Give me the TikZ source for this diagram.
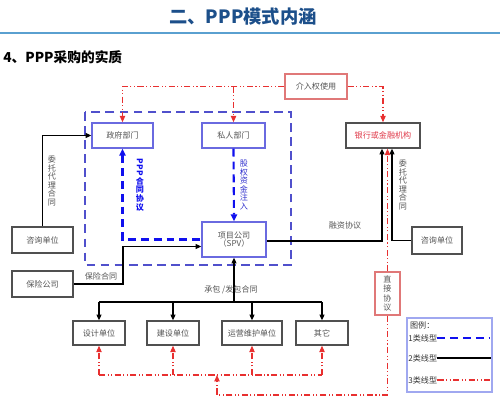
\documentclass[tikz,border=0pt]{standalone}
\usepackage{fontspec}
\setmainfont{Noto Sans CJK SC}
\usepackage{tikz}
\usetikzlibrary{arrows.meta,calc,positioning}
\definecolor{ttlblue}{HTML}{1C4F8A}
\definecolor{rulecol}{HTML}{5AA0D0}
\definecolor{boxgray}{HTML}{505050}
\definecolor{txtgray}{HTML}{555555}
\definecolor{boxblue}{HTML}{6A6AE0}
\definecolor{dashblue}{HTML}{1010EE}
\definecolor{outerblue}{HTML}{5050CC}
\definecolor{lnred}{HTML}{E83030}
\definecolor{boxred}{HTML}{E07878}
\definecolor{bankred}{HTML}{E03848}
\definecolor{legblue}{HTML}{A0A8F0}
\tikzset{
  unitbox/.style={
    draw = boxgray,
    line width = 0.8pt,
    fill = white,
    text = txtgray,
    font = \fontsize{4.6}{5}\selectfont,
    inner sep = 0pt
  },
  bluebox/.style={
    unitbox,
    draw = boxblue
  },
  redbox/.style={
    unitbox,
    draw = boxred
  },
  lab/.style={
    text = txtgray,
    font = \fontsize{4.6}{5}\selectfont,
    inner sep = 1pt
  },
  vlab/.style={
    lab,
    align = center,
    font = \fontsize{4.6}{4.9}\selectfont
  },
}
\tikzset{
  kline/.style={
    line width = 0.6pt,
    black,
    -{Triangle[length=3.2pt,width=2.8pt]}
  },
  bline/.style={
    line width = 1.2pt,
    dashblue,
    dash pattern = on 4.5pt off 2.8pt,
    -{Triangle[length=4pt,width=3.6pt]}
  },
  rline/.style={
    line width = 0.6pt,
    lnred,
    dash pattern = on 3.5pt off 1.4pt on 0.6pt off 1.4pt on 0.6pt off 1.4pt,
    -{Triangle[length=3.6pt,width=3pt]}
  },
}
\begin{document}
\begin{tikzpicture}[x=0.02cm,y=-0.02cm]
    \useasboundingbox (0,0) rectangle (500,402);
    \def\rowa{135.5}
    \def\rowb{333}
    % heading
    \node[text=ttlblue, font=\fontsize{10.4}{12}\selectfont\bfseries, inner sep=0pt] (title) at (243,17) {二、PPP模式内涵};
    \draw[rulecol, line width=0.8pt] (0,33) -- (500,33);
    \node[font=\fontsize{7.8}{9}\selectfont\bfseries, anchor=west, inner sep=0pt] (sub) at (3,57) {4、PPP采购的实质};
    % PPP frame
    \draw[outerblue, line width=1pt, dash pattern=on 5pt off 3pt] (85,112) rectangle (291,265);
    % boxes
    \node[redbox, minimum width=1.24cm, minimum height=0.5cm] (jieru) at (316,86.5) {介入权使用};
    \node[bluebox, minimum width=1.22cm, minimum height=0.5cm] (gov) at (122.5,\rowa) {政府部门};
    \node[bluebox, minimum width=1.26cm, minimum height=0.5cm] (pri) at (233.5,\rowa) {私人部门};
    \node[bluebox, minimum width=1.28cm, minimum height=0.7cm, align=center] (spv) at (234,239.5) {项目公司\\（SPV）};
    \node[unitbox, text=bankred, minimum width=1.48cm, minimum height=0.5cm] (bank) at (383,\rowa) {银行或金融机构};
    \node[unitbox, minimum width=1.22cm, minimum height=0.52cm] (zixunl) at (42.5,240) {咨询单位};
    \node[unitbox, minimum width=1.0cm, minimum height=0.54cm] (zixunr) at (437,240.5) {咨询单位};
    \node[unitbox, minimum width=1.22cm, minimum height=0.52cm] (baoxian) at (42.5,284) {保险公司};
    \node[unitbox, minimum width=1.04cm, minimum height=0.48cm] (sheji) at (99,\rowb) {设计单位};
    \node[unitbox, minimum width=1.04cm, minimum height=0.48cm] (jianshe) at (173,\rowb) {建设单位};
    \node[unitbox, minimum width=1.2cm, minimum height=0.48cm] (yunying) at (252,\rowb) {运营维护单位};
    \node[unitbox, minimum width=1.04cm, minimum height=0.48cm] (qita) at (322,\rowb) {其它};
    \node[redbox, minimum width=0.5cm, minimum height=0.86cm, align=center, font=\fontsize{4.6}{5.4}\selectfont] (zhijie) at (387.5,293.5) {直\\接\\协\\议};
    % 1: blue dashed
    \draw[bline, {Triangle[length=4pt,width=3.6pt]}-] (gov.south) |- (spv.west);
    \draw[bline] (pri.south) -- (spv.north);
    \node[vlab, text=dashblue, font=\fontsize{4.6}{4.9}\selectfont\bfseries] (ppplab) at (140,185) {\rotatebox{-90}{PPP}\\合\\同\\协\\议};
    \node[vlab, text=dashblue!70!gray] (gqlab) at (244,185) {股\\权\\资\\金\\注\\入};
    % 2: black
    \draw[kline, {Triangle[length=3.2pt,width=2.8pt]}-] (gov.west) -| (zixunl.north);
    \node[vlab] (wtl) at (52,181) {委\\托\\代\\理\\合\\同};
    \coordinate (bxcorner) at (123,284);
    \draw[kline, {Triangle[length=3.2pt,width=2.8pt]}-] ($(spv.west)+(0,7)$) -| (bxcorner) -- (baoxian.east);
    \node[lab] (bxlab) at (101,276) {保险合同};
    \draw[kline, {Triangle[length=3.2pt,width=2.8pt]}-] ($(bank.south)+(-1,0)$) |- ($(spv.east)+(0,1.5)$);
    \node[lab] (rzlab) at (345,225) {融资协议};
    \draw[kline, {Triangle[length=3.2pt,width=2.8pt]}-] ($(bank.south)+(9,0)$) |- (zixunr.west);
    \node[vlab] (wtr) at (403,185) {委\\托\\代\\理\\合\\同};
    \coordinate (kbus) at (234,302);
    \draw[kline] (kbus) -- (spv.south);
    \draw[line width=0.6pt] (sheji.north |- kbus) -- (qita.north |- kbus);
    \foreach \u in {sheji,jianshe,yunying,qita}
        \draw[kline] (\u.north |- kbus) -- (\u.north);
    \node[lab] (cblab) at (231,290) {承包 /发包合同};
    % 3: red dash-dot
    \draw[rline] (jieru.west) -| (gov.north);
    \draw[rline] (pri.north |- jieru.west) -- (pri.north);
    \draw[rline] (jieru.east) -| (bank.north);
    \draw[rline] (zhijie.north) -- (zhijie.north |- bank.south);
    \coordinate (rbus) at (217,375);
    \coordinate (rcorner) at (217,395);
    \draw[rline, -] (sheji.south |- rbus) -- (qita.south |- rbus);
    \foreach \u in {sheji,jianshe,yunying,qita}
        \draw[rline] (\u.south |- rbus) -- (\u.south);
    \draw[rline] (zhijie.south) |- (rcorner) -- (rbus);
    % legend
    \node[draw=legblue, line width=0.7pt, minimum width=1.7cm, minimum height=1.48cm, inner sep=0pt] (legend) at (449.5,355) {};
    \node[lab, text=black!80, anchor=west] (lg0) at (408,325) {图例：};
    \node[lab, text=black!80, anchor=west, inner sep=0pt] (lg1) at (408,338) {1类线型};
    \node[lab, text=black!80, anchor=west, inner sep=0pt] (lg2) at (408,358) {2类线型};
    \node[lab, text=black!80, anchor=west, inner sep=0pt] (lg3) at (408,380) {3类线型};
    \draw[bline, -, line width=1pt] (lg1.east) -- (lg1.east -| 490,0);
    \draw[kline, -] (lg2.east) -- (lg2.east -| 491,0);
    \draw[rline, -] (lg3.east) -- (lg3.east -| 490,0);
\end{tikzpicture}
\end{document}
